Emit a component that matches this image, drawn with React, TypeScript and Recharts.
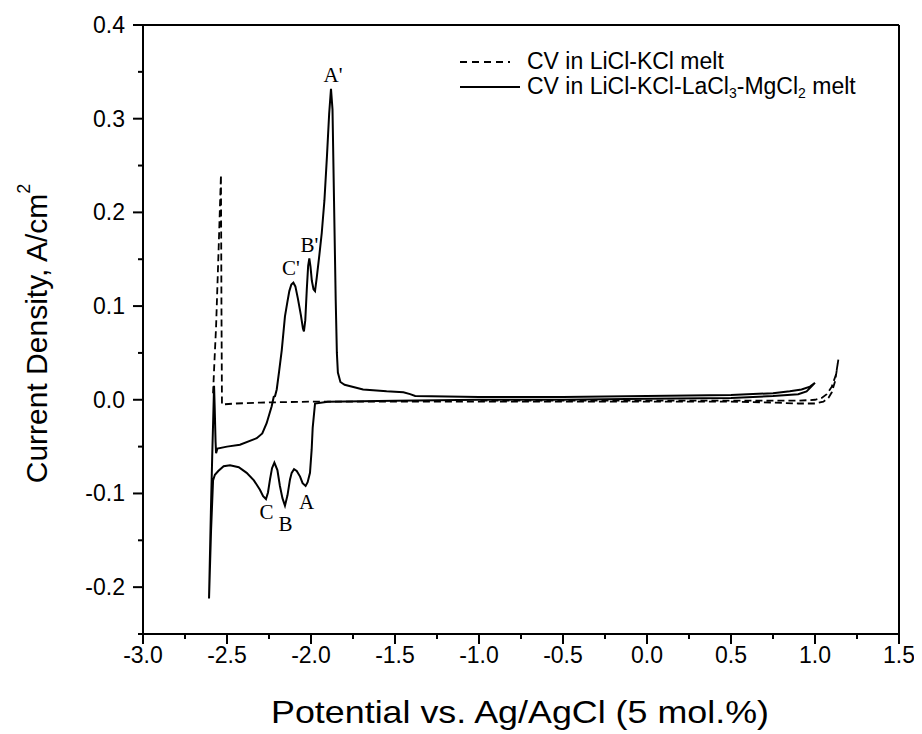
import { LineChart, Line, XAxis, YAxis, ReferenceLine, ReferenceDot, Legend, Label } from 'recharts'

const xTicks = [-3, -2.75, -2.5, -2.25, -2, -1.75, -1.5, -1.25, -1, -0.75, -0.5, -0.25, 0, 0.25, 0.5, 0.75, 1, 1.25, 1.5]
const yTicks = [-0.25, -0.2, -0.15, -0.1, -0.05, 0, 0.05, 0.1, 0.15, 0.2, 0.25, 0.3, 0.35, 0.4]

// CV in LiCl-KCl melt (scan order)
const blankX = [-2.583, -2.575, -2.565, -2.55, -2.536, -2.533, -2.53, -2.45, -2.3, -2.0, -1.5, -1.0, -0.5, 0.0, 0.5, 0.75, 0.9, 1.0, 1.05, 1.08, 1.1, 1.12, 1.139, 1.125, 1.1, 1.07, 1.04, 1.0, 0.9, 0.75, 0.5, 0.0, -0.5, -1.0]
const blankY = [0.007, 0.04, 0.078, 0.16, 0.24, 0.1, -0.005, -0.004, -0.003, -0.002, -0.002, -0.002, -0.002, -0.002, -0.002, -0.003, -0.004, -0.004, -0.002, 0.002, 0.008, 0.02, 0.043, 0.027, 0.014, 0.006, 0.002, 0.0, -0.001, -0.001, -0.001, -0.001, -0.001, -0.001]

// CV in LiCl-KCl-LaCl3-MgCl2 melt, cathodic then anodic sweep
const laX = [
  1.0, 0.95, 0.9, 0.75, 0.5, 0.0, -0.5, -1.0, -1.5, -1.9, -1.976, -1.99, -1.996, -2.006, -2.02, -2.032, -2.05, -2.065,
  -2.085, -2.101, -2.115, -2.125, -2.14, -2.155, -2.17, -2.185, -2.2, -2.218, -2.232, -2.244, -2.256, -2.268, -2.285,
  -2.304, -2.34, -2.383, -2.43, -2.482, -2.52, -2.552, -2.572, -2.583, -2.595, -2.607,
  -2.596, -2.588, -2.582, -2.577, -2.573, -2.568, -2.565, -2.557, -2.5, -2.423, -2.323, -2.29, -2.264, -2.234, -2.222,
  -2.214, -2.204, -2.19, -2.174, -2.155, -2.14, -2.129, -2.117, -2.105, -2.093, -2.078, -2.06, -2.048, -2.042, -2.034,
  -2.025, -2.017, -2.01, -2.003, -1.995, -1.985, -1.976, -1.966, -1.95, -1.936, -1.92, -1.905, -1.892, -1.881, -1.872,
  -1.863, -1.853, -1.846, -1.84, -1.825, -1.8, -1.69, -1.55, -1.45, -1.41, -1.38, -1.0, -0.5, 0.0, 0.5, 0.75, 0.85,
  0.92, 0.97, 1.0,
]
const laY = [
  0.018, 0.009, 0.006, 0.004, 0.002, 0.001, 0.0, 0.0, -0.001, -0.002, -0.004, -0.03, -0.053, -0.078, -0.088, -0.092,
  -0.089, -0.082, -0.076, -0.074, -0.078, -0.085, -0.102, -0.113, -0.105, -0.092, -0.075, -0.067, -0.073, -0.085,
  -0.099, -0.106, -0.103, -0.096, -0.086, -0.078, -0.072, -0.07, -0.071, -0.076, -0.08, -0.086, -0.14, -0.212,
  -0.12, -0.06, -0.02, 0.015, -0.01, -0.045, -0.057, -0.052, -0.05, -0.048, -0.041, -0.036, -0.025, -0.007, 0.003,
  0.004, 0.011, 0.03, 0.053, 0.089, 0.105, 0.116, 0.123, 0.125, 0.121, 0.108, 0.09, 0.076, 0.073, 0.085, 0.118,
  0.143, 0.151, 0.142, 0.127, 0.118, 0.116, 0.13, 0.155, 0.178, 0.213, 0.26, 0.305, 0.332, 0.31, 0.213, 0.107, 0.05,
  0.029, 0.019, 0.016, 0.011, 0.009, 0.008, 0.006, 0.004, 0.003, 0.003, 0.004, 0.005, 0.007, 0.009, 0.011, 0.014,
  0.018,
]

const peakNames = ["A'", "B'", "C'", 'A', 'B', 'C']
const peakX = [-1.869, -2.009, -2.119, -2.027, -2.152, -2.265]
const peakY = [0.347, 0.165, 0.141, -0.109, -0.133, -0.12]

const blank = blankX.map((x, i) => ({ x, y: blankY[i] }))
const lanth = laX.map((x, i) => ({ x, y: laY[i] }))

const SANS = '"Liberation Sans", Arial, sans-serif'
const SERIF = '"Liberation Serif", "Times New Roman", serif'

function XTick({ x, y, payload }: any) {
  const v = payload.value
  const major = Math.abs(v * 2 - Math.round(v * 2)) < 1e-6
  return (
    <g>
      <line x1={x} x2={x} y1={y} y2={y + (major ? 10 : 5)} stroke="#000" strokeWidth={2} />
      {major && (
        <text x={x} y={y + 29} textAnchor="middle" fontSize={23} fontFamily={SANS} fill="#000">
          {v.toFixed(1)}
        </text>
      )}
    </g>
  )
}

function YTick({ x, y, payload }: any) {
  const v = payload.value
  const major = Math.abs(v * 10 - Math.round(v * 10)) < 1e-6
  return (
    <g>
      <line x1={x} x2={x - (major ? 10 : 5)} y1={y} y2={y} stroke="#000" strokeWidth={2} />
      {major && (
        <text x={x - 18} y={y + 8} textAnchor="end" fontSize={23} fontFamily={SANS} fill="#000">
          {v.toFixed(1)}
        </text>
      )}
    </g>
  )
}

function LegendBox() {
  const row = { display: 'flex', alignItems: 'center', height: 25, whiteSpace: 'nowrap' as const }
  const sub = { fontSize: 14, lineHeight: 0, verticalAlign: '-0.25em' }
  return (
    <div style={{ fontFamily: SANS, fontSize: 23, color: '#000', lineHeight: '25px' }}>
      <div style={row}>
        <svg width={75} height={10}>
          <line x1={8} x2={58} y1={5} y2={5} stroke="#000" strokeWidth={1.8} strokeDasharray="7 5" />
        </svg>
        <span>CV in LiCl-KCl melt</span>
      </div>
      <div style={row}>
        <svg width={75} height={10}>
          <line x1={8} x2={68} y1={5} y2={5} stroke="#000" strokeWidth={2} />
        </svg>
        <span>
          CV in LiCl-KCl-LaCl<sub style={sub}>3</sub>-MgCl<sub style={sub}>2</sub> melt
        </span>
      </div>
    </div>
  )
}

export default function App() {
  return (
    <div style={{ margin: '-8px 0 0 -8px', width: 922, height: 734, background: '#fff', position: 'relative' }}>
      <LineChart width={922} height={734} margin={{ top: 25, right: 23, bottom: 0, left: 0 }}>
        <XAxis
          type="number"
          dataKey="x"
          domain={[-3, 1.5]}
          ticks={xTicks}
          interval={0}
          allowDataOverflow
          height={100}
          tickSize={0}
          tickMargin={0}
          tickLine={false}
          axisLine={{ stroke: '#000', strokeWidth: 2 }}
          tick={<XTick />}
        >
          <Label
            content={({ viewBox }: any) => {
              const cx = viewBox.x + viewBox.width / 2 - 1
              const by = viewBox.y + 89
              return (
                <text
                  x={cx}
                  y={by}
                  transform={`translate(${cx} 0) scale(1.12 1) translate(${-cx} 0)`}
                  textAnchor="middle"
                  fontSize={32}
                  fontFamily={SANS}
                  fill="#000"
                >
                  Potential vs. Ag/AgCl (5 mol.%)
                </text>
              )
            }}
          />
        </XAxis>
        <YAxis
          type="number"
          dataKey="y"
          domain={[-0.25, 0.4]}
          ticks={yTicks}
          interval={0}
          allowDataOverflow
          width={143}
          tickSize={0}
          tickMargin={0}
          tickLine={false}
          axisLine={{ stroke: '#000', strokeWidth: 2 }}
          tick={<YTick />}
        >
          <Label
            content={({ viewBox }: any) => {
              const cx = 36
              const cy = viewBox.y + viewBox.height / 2 + 4
              return (
                <text
                  x={cx}
                  y={cy}
                  transform={`rotate(-90 ${cx} ${cy})`}
                  textAnchor="middle"
                  dominantBaseline="central"
                  fontSize={30}
                  fontFamily={SANS}
                  fill="#000"
                >
                  Current Density, A/cm
                  <tspan fontSize={18} dy={-12}>
                    2
                  </tspan>
                </text>
              )
            }}
          />
        </YAxis>
        <ReferenceLine y={0.4} stroke="#000" strokeWidth={2} />
        <ReferenceLine x={1.5} stroke="#000" strokeWidth={2} />
        <Line
          data={blank}
          dataKey="y"
          type="linear"
          stroke="#000"
          strokeWidth={1.8}
          strokeDasharray="7 4"
          dot={false}
          isAnimationActive={false}
        />
        <Line
          data={lanth}
          dataKey="y"
          type="linear"
          stroke="#000"
          strokeWidth={2}
          dot={false}
          isAnimationActive={false}
        />
        {peakNames.map((name, i) => (
          <ReferenceDot
            key={name}
            x={peakX[i]}
            y={peakY[i]}
            r={1}
            fill="none"
            stroke="none"
            label={{
              content: ({ viewBox }: any) => (
                <text
                  x={viewBox.x + viewBox.width / 2}
                  y={viewBox.y + viewBox.height / 2}
                  textAnchor="middle"
                  dominantBaseline="central"
                  fontSize={21}
                  fontFamily={SERIF}
                  fill="#000"
                >
                  {name}
                </text>
              ),
            }}
          />
        ))}
        <Legend
          layout="vertical"
          align="center"
          verticalAlign="middle"
          wrapperStyle={{ top: 49, left: 452, width: 'auto' }}
          content={() => <LegendBox />}
        />
      </LineChart>
    </div>
  )
}
